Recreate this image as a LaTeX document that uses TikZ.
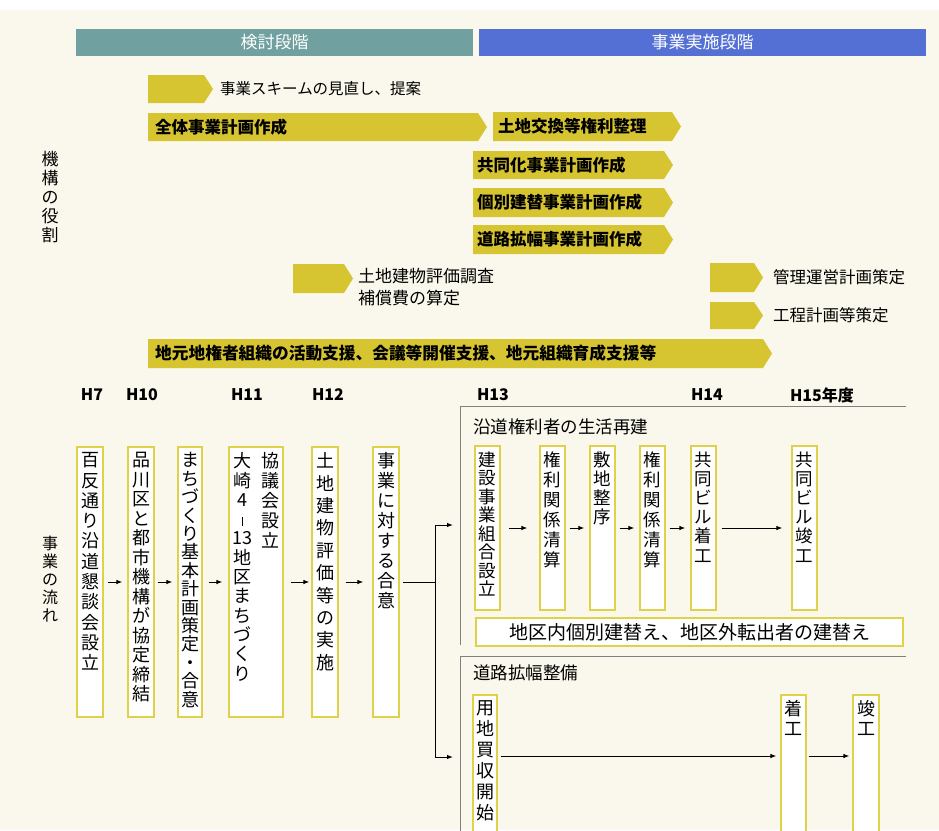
\documentclass[tikz,border=0pt]{standalone}
\usepackage{fontspec}
\setmainfont{Noto Sans CJK JP}
\usetikzlibrary{arrows.meta,calc}
\definecolor{bgc}{RGB}{250,248,236}
\definecolor{ybarc}{RGB}{214,196,48}
\definecolor{ylinec}{RGB}{224,210,72}
\definecolor{hdrteal}{RGB}{112,160,160}
\definecolor{hdrblue}{RGB}{84,112,212}
\definecolor{frmc}{RGB}{128,128,128}
\newcommand\fs[2]{\fontsize{#1}{#2}\selectfont}
% yellow arrow bar: x1, x2 (tip), ytop, ybottom
\newcommand\yarrowbar[4]{\fill[ybarc] (#1,#3) -- ({#2-9},#3) -- (#2,{(#3+#4)/2}) -- ({#2-9},#4) -- (#1,#4) -- cycle;}
% flow box: name, xl, xr, yt, yb, fontsize, skip, text
\newcommand\flowbx[8]{%
  \node[fbox, minimum width={#3-#2}, minimum height={#5-#4}] (#1) at ({(#2+#3)/2},{(#4+#5)/2}) {};
  \node[vtxt, anchor=north, font=\fs{#6}{#7}] (#1t) at ([yshift=-6pt]#1.north) {#8};
}
\begin{document}
\begin{tikzpicture}[x=1pt,y=-1pt,
  vtxt/.style={align=center, inner sep=0pt},
  fbox/.style={draw=ylinec, line width=1.2pt, fill=white, inner sep=0pt},
  bartxt/.style={anchor=west, inner sep=0pt, font=\fs{16.5}{18}\bfseries},
  lbl/.style={anchor=west, inner sep=0pt, font=\fs{16.5}{22}},
  yr/.style={inner sep=0pt, font=\fs{16}{18}\bfseries},
  hdr/.style={inner sep=0pt, text=white, font=\fs{17}{18}},
  flow/.style={-{Latex[length=6pt,width=4.5pt]}, line width=1pt},
  ln/.style={line width=1pt},
  frame/.style={draw=frmc, line width=1pt}]
\useasboundingbox (0,0) rectangle (939,830);
\clip (0,0) rectangle (939,830);
\fill[white] (0,0) rectangle (939,10);
\fill[bgc] (0,10) rectangle (939,830);

% headers
\node[hdr, fill=hdrteal, minimum width=397, minimum height=27] (h1) at (274.5,42.5) {検討段階};
\node[hdr, fill=hdrblue, minimum width=447, minimum height=27] (h2) at (702.5,42.5) {事業実施段階};

% side labels
\node[vtxt, anchor=north, font=\fs{17}{19}] (role) at (50,151) {機\\構\\の\\役\\割};
\node[vtxt, anchor=north, font=\fs{16}{18}] (flowlbl) at (50,536) {事\\業\\の\\流\\れ};

% yellow arrow bars
\yarrowbar{148}{213}{75}{103}
\node[lbl, font=\fs{15.5}{18}] (t1) at (220,89) {事業スキームの見直し、提案};
\yarrowbar{148}{487}{113}{141}
\node[bartxt] (t2) at (155,127) {全体事業計画作成};
\yarrowbar{493}{681}{112}{141}
\node[bartxt] (t3) at (498,126.5) {土地交換等権利整理};
\yarrowbar{473}{673}{151}{179}
\node[bartxt] (t4) at (477,165) {共同化事業計画作成};
\yarrowbar{473}{673}{188}{217}
\node[bartxt] (t5) at (477,202.5) {個別建替事業計画作成};
\yarrowbar{473}{673}{225}{254}
\node[bartxt] (t6) at (477,239.5) {道路拡幅事業計画作成};
\yarrowbar{293}{353}{264}{293}
\node[lbl, align=left, anchor=north west, font=\fs{17}{22}] (t7) at (358,268) {土地建物評価調査\\補償費の算定};
\yarrowbar{710}{763}{263}{292}
\node[lbl] (t8) at (773,277.5) {管理運営計画策定};
\yarrowbar{710}{763}{302}{329}
\node[lbl] (t9) at (773,315.5) {工程計画等策定};
\yarrowbar{148}{772}{339}{368}
\node[bartxt, font=\fs{16.7}{18}\bfseries] (t10) at (155,353.5) {地元地権者組織の活動支援、会議等開催支援、地元組織育成支援等};

% years
\node[yr] (y7) at (92,395) {H7};
\node[yr] (y10) at (142,395) {H10};
\node[yr] (y11) at (247,395) {H11};
\node[yr] (y12) at (328,395) {H12};
\node[yr] (y13) at (493,395) {H13};
\node[yr] (y14) at (707,395) {H14};
\node[yr] (y15) at (822,395) {H15年度};

% group frames
\draw[frame] (906,406) -- (460,406) -- (460,645);
\draw[frame] (906,656) -- (460,656) -- (460,835);
\node[anchor=west, inner sep=0pt, font=\fs{17.5}{20}] (g1t) at (473,427) {沿道権利者の生活再建};
\node[anchor=west, inner sep=0pt, font=\fs{17.5}{20}] (g2t) at (473,673) {道路拡幅整備};

% main flow boxes
\flowbx{b1}{77}{103}{447}{717}{18}{20.3}{百\\反\\通\\り\\沿\\道\\懇\\談\\会\\設\\立}
\flowbx{b2}{128}{154}{447}{717}{18}{19.5}{品\\川\\区\\と\\都\\市\\機\\構\\が\\協\\定\\締\\結}
\flowbx{b3}{178}{202}{447}{717}{18}{18.4}{ま\\ち\\づ\\く\\り\\基\\本\\計\\画\\策\\定\\・\\合\\意}
\node[fbox, minimum width=54, minimum height=270] (b4) at (256,582) {};
\node[vtxt, anchor=north, font=\fs{18}{20}] (b4r) at ([xshift=14.5pt,yshift=-6pt]b4.north) {協\\議\\会\\設\\立};
\node[vtxt, anchor=north, font=\fs{18}{19.3}] (b4l) at ([xshift=-14pt,yshift=-6pt]b4.north) {大\\崎\\4\\\rule{0.9pt}{9pt}\\13\\地\\区\\ま\\ち\\づ\\く\\り};
\flowbx{b5}{312}{338}{447}{717}{18}{22.4}{土\\地\\建\\物\\評\\価\\等\\の\\実\\施}
\flowbx{b6}{373}{399}{447}{717}{18}{20}{事\\業\\に\\対\\す\\る\\合\\意}

\draw[flow] ($(b1.east)+(4,0)$) -- ($(b2.west)+(-5,0)$);
\draw[flow] ($(b2.east)+(3,0)$) -- ($(b3.west)+(-5,0)$);
\draw[flow] ($(b3.east)+(6,0)$) -- ($(b4.west)+(-6,0)$);
\draw[flow] ($(b4.east)+(7,0)$) -- ($(b5.west)+(-2,0)$);
\draw[flow] ($(b5.east)+(7,0)$) -- ($(b6.west)+(-9,0)$);

% junction
\coordinate (j0) at (435,582);
\coordinate (j1) at (435,525);
\coordinate (j2) at (435,757);
\coordinate (ga) at (453,525);
\coordinate (gb) at (453,757);
\draw[ln] ($(b6.east)+(3,0)$) -- (j0);
\draw[ln] (j1) -- (j2);
\draw[flow] (j1) -- (ga);
\draw[flow] (j2) -- (gb);

% group 1 boxes
\flowbx{c1}{475}{500}{446}{610}{17.5}{18.5}{建\\設\\事\\業\\組\\合\\設\\立}
\flowbx{c2}{540}{565}{446}{610}{17.5}{20}{権\\利\\関\\係\\清\\算}
\flowbx{c3}{590}{615}{446}{610}{17.5}{19}{敷\\地\\整\\序}
\flowbx{c4}{640}{665}{446}{610}{17.5}{20}{権\\利\\関\\係\\清\\算}
\flowbx{c5}{691}{716}{446}{610}{17.5}{19.2}{共\\同\\ビ\\ル\\着\\工}
\flowbx{c6}{792}{817}{446}{610}{17.5}{19.2}{共\\同\\ビ\\ル\\竣\\工}
\draw[flow] ($(c1.east)+(8,0)$) -- ($(c2.west)+(-12,0)$);
\draw[flow] ($(c2.east)+(4,0)$) -- ($(c3.west)+(-5,0)$);
\draw[flow] ($(c3.east)+(4,0)$) -- ($(c4.west)+(-5,0)$);
\draw[flow] ($(c4.east)+(4,0)$) -- ($(c5.west)+(-5,0)$);
\draw[flow] ($(c5.east)+(5,0)$) -- ($(c6.west)+(-9,0)$);

\node[fbox, minimum width=427, minimum height=28, font=\fs{19}{20}] (wide) at (689.5,632) {地区内個別建替え、地区外転出者の建替え};

% group 2 boxes
\coordinate (r2) at (0,756);
\flowbx{d1}{473}{497}{695}{845}{18}{21}{用\\地\\買\\収\\開\\始}
\flowbx{d2}{781}{806}{695}{845}{18}{20}{着\\工}
\flowbx{d3}{853}{879}{695}{845}{18}{20}{竣\\工}
\draw[flow] ($(d1.east |- r2)+(3,0)$) -- ($(d2.west |- r2)+(-4,0)$);
\draw[flow] ($(d2.east |- r2)+(2,0)$) -- ($(d3.west |- r2)+(-3,0)$);
\end{tikzpicture}
\end{document}
